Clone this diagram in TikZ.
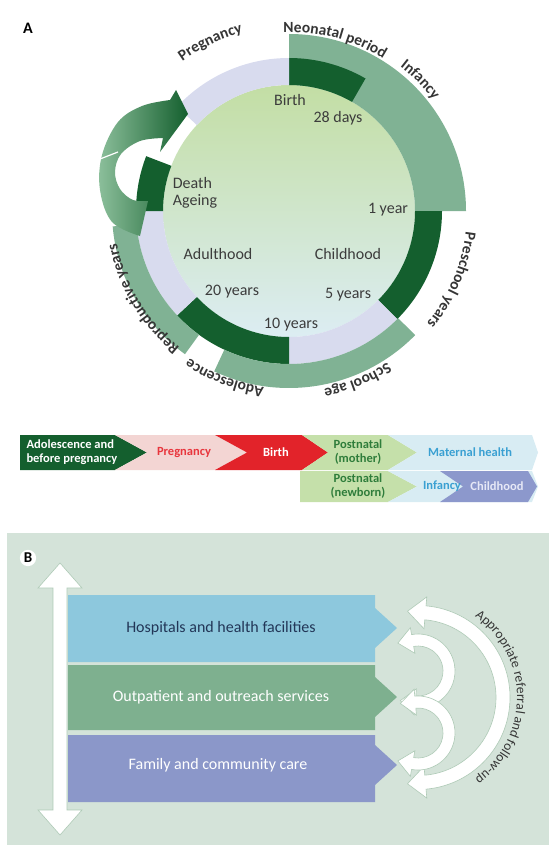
\documentclass[tikz,border=0pt]{standalone}
\usepackage{fontspec}
\setmainfont{Carlito}
\usepackage{xcolor}
\usepackage{tikz}
\usetikzlibrary{calc,decorations.text}

\definecolor{darkgreen}{HTML}{145F2E}
\definecolor{midgreen}{HTML}{80B294}
\definecolor{lavender}{HTML}{D8DBEE}
\definecolor{discTop}{HTML}{C3DEA4}
\definecolor{discBottom}{HTML}{DCEDF3}
\definecolor{arrowlight}{HTML}{8CBF9B}
\definecolor{ringtext}{HTML}{353535}
\definecolor{innertext}{HTML}{3C3C3C}
\definecolor{barpink}{HTML}{F3D5D3}
\definecolor{barred}{HTML}{E2232A}
\definecolor{barlightgreen}{HTML}{C5E0AA}
\definecolor{barblue}{HTML}{D8ECF3}
\definecolor{barpurple}{HTML}{8C98CC}
\definecolor{textred}{HTML}{E8363D}
\definecolor{textgreen}{HTML}{2F7D3B}
\definecolor{textblue}{HTML}{3AA0D2}
\definecolor{textlilac}{HTML}{E6E8F6}
\definecolor{panelbg}{HTML}{D4E3D9}
\definecolor{bandblue}{HTML}{8DC8DD}
\definecolor{bandgreen}{HTML}{7EB08F}
\definecolor{bandpurple}{HTML}{8B97C9}
\definecolor{textnavy}{HTML}{223657}
\definecolor{arrowline}{HTML}{AECAB6}

\newcommand{\ringfont}{\bfseries\fontsize{15.5}{15.5}\selectfont}
% ring piece: colour, from angle, to angle, inner radius, outer radius
\newcommand{\ringpart}[5]{\fill[#1] ($(C)+(#2:#4)$) arc[start angle=#2, end angle=#3, radius=#4]
  -- ($(C)+(#3:#5)$) arc[start angle=#3, end angle=#2, radius=#5] -- cycle;}
% curved white arrow: centre, radius, half width, from angle, to angle, head half width
\newcommand{\turnarrow}[6]{\filldraw[arcarrow] ($(#1)+(#4:#2+#3)$) arc[start angle=#4, end angle=#5, radius=#2+#3]
  -- ($(#1)+(#5:#2+#6)$) -- ($(#1)+(#5:#2)+(#5-90:#6+2)$) -- ($(#1)+(#5:#2-#6)$)
  -- ($(#1)+(#5:#2-#3)$) arc[start angle=#5, end angle=#4, radius=#2-#3]
  -- ($(#1)+(#4:#2-#6)$) -- ($(#1)+(#4:#2)+(#4+90:#6+2)$) -- ($(#1)+(#4:#2+#6)$) -- cycle;}

\begin{document}
\begin{tikzpicture}[x=1pt,y=1pt,
  inlabel/.style={text=innertext, font=\fontsize{16}{17}\selectfont},
  barlabel/.style={font=\bfseries\fontsize{12.5}{14}\selectfont, align=center},
  bandlabel/.style={font=\fontsize{16}{17}\selectfont},
  arcarrow/.style={fill=white, draw=arrowline, line width=0.6pt},
  ringlabel/.style={decorate, decoration={text along path, text align=center,
    text color=ringtext, text={|\ringfont|#1}}}]
  \useasboundingbox (0,0) rectangle (549,-845);
  \coordinate (C) at (289,-211);
  \coordinate (R) at (418,-697.5);

  % Panel A
  \node[font=\bfseries\fontsize{16}{16}\selectfont] (labA) at (28,-28) {A};

  % Inner disc
  \shade[top color=discTop, bottom color=discBottom] (C) circle[radius=126];

  % Rings
  \ringpart{midgreen}{90}{0}{126}{177}
  \ringpart{darkgreen}{90}{60}{126}{153}
  \ringpart{darkgreen}{0}{-45}{126}{153}
  \ringpart{lavender}{-45}{-90}{126}{153}
  \ringpart{darkgreen}{-90}{-137}{126}{153}
  \ringpart{lavender}{-137}{-180}{126}{153}
  \ringpart{darkgreen}{180}{159}{126}{153}
  \ringpart{lavender}{137}{90}{126}{153}
  \ringpart{midgreen}{-44.5}{-115}{153}{177}
  \ringpart{midgreen}{185}{234}{153}{177}

  % Ring labels
  \path[ringlabel={Pregnancy}] ($(C)+(145:184)$) arc[start angle=145, end angle=85, radius=184];
  \path[ringlabel={Neonatal period}] ($(C)+(110:179)$) arc[start angle=110, end angle=40, radius=179];
  \path[ringlabel={Infancy}] ($(C)+(75:182)$) arc[start angle=75, end angle=15, radius=182];
  \path[ringlabel={Preschool years}] ($(C)+(12:178)$) arc[start angle=12, end angle=-58, radius=178];
  \path[ringlabel={School age}] ($(C)+(-38:181)$) arc[start angle=-38, end angle=-98, radius=181];
  \path[ringlabel={Adolescence}] ($(C)+(-81:178)$) arc[start angle=-81, end angle=-141, radius=178];
  \path[ringlabel={Reproductive years}] ($(C)+(246:175)$) arc[start angle=246, end angle=176, radius=175];

  % Return arrow
  \shade[left color=arrowlight, right color=darkgreen] (140,-236)
    -- plot[smooth, tension=0.6] coordinates {(140,-236) (112,-222) (100,-190) (102,-155) (118,-122) (142,-106) (170,-100)}
    -- (176,-90) -- (188,-114) -- (160,-152)
    -- plot[smooth, tension=0.6] coordinates {(163,-138) (140,-141) (121,-154) (115,-172) (120,-189) (133,-200) (148,-201)}
    -- cycle;
  \draw[white, line width=1.2pt] (100,-159) -- (118,-152);

  % Disc labels
  \node[inlabel] (birth) at (290,-100) {Birth};
  \node[inlabel] (days28) at (338,-118) {28 days};
  \node[inlabel, align=left] (death) at (195,-193) {Death\\Ageing};
  \node[inlabel] (year1) at (388,-210) {1 year};
  \node[inlabel] (adult) at (218,-254) {Adulthood};
  \node[inlabel] (child) at (348,-254) {Childhood};
  \node[inlabel] (years20) at (232,-292) {20 years};
  \node[inlabel] (years5) at (348,-295) {5 years};
  \node[inlabel] (years10) at (291,-325) {10 years};

  % Stage bar, first row
  \fill[darkgreen] (20,-435) -- (115,-435) -- (147,-452.5) -- (115,-470) -- (20,-470) -- cycle;
  \fill[barpink] (115,-435) -- (215,-435) -- (247,-452.5) -- (215,-470) -- (115,-470) -- (147,-452.5) -- cycle;
  \fill[barred] (215,-435) -- (302,-435) -- (328,-452.5) -- (302,-470) -- (215,-470) -- (247,-452.5) -- cycle;
  \fill[barlightgreen] (302,-435) -- (388,-435) -- (417,-452.5) -- (388,-470) -- (302,-470) -- (328,-452.5) -- cycle;
  \fill[barblue] (388,-435) -- (532,-435) -- (538,-452.5) -- (532,-470) -- (388,-470) -- (417,-452.5) -- cycle;
  % Stage bar, second row
  \fill[barlightgreen] (300,-471) -- (388,-471) -- (417,-486.5) -- (388,-502) -- (300,-502) -- cycle;
  \fill[barblue] (388,-471) -- (532,-471) -- (538,-486.5) -- (532,-502) -- (388,-502) -- (417,-486.5) -- cycle;
  \fill[barpurple] (440,-471) -- (528,-471) -- (537,-486.5) -- (528,-502) -- (440,-502) -- (463,-486.5) -- cycle;

  \node[barlabel, text=white, align=left, anchor=west] (adol) at (23,-452.5) {Adolescence and\\before pregnancy};
  \node[barlabel, text=textred] (preg) at (184,-452.5) {Pregnancy};
  \node[barlabel, text=white] (birthbar) at (276,-452.5) {Birth};
  \node[barlabel, text=textgreen] (postmother) at (358,-452.5) {Postnatal\\(mother)};
  \node[barlabel, text=textblue] (maternal) at (470,-452.5) {Maternal health};
  \node[barlabel, text=textgreen] (postnewborn) at (358,-486.5) {Postnatal\\(newborn)};
  \node[barlabel, text=textblue] (infbar) at (442,-486.5) {Infancy};
  \node[barlabel, text=textlilac] (childbar) at (497,-486.5) {Childhood};

  % Panel B
  \fill[panelbg] (7,-533) rectangle (549,-845);
  \node[circle, fill=white, inner sep=1.2pt, font=\bfseries\fontsize{15}{15}\selectfont] (labB) at (28,-558) {B};

  % Levels of care
  \filldraw[arcarrow] (53,-588) -- (38,-588) -- (60,-563) -- (82,-588) -- (67,-588) -- (67,-810)
    -- (82,-810) -- (60,-835) -- (38,-810) -- (53,-810) -- cycle;
  \fill[bandblue] (68,-595) -- (375,-595) -- (375,-608) -- (397,-628) -- (375,-648) -- (375,-662) -- (68,-662) -- cycle;
  \fill[bandgreen] (68,-665) -- (375,-665) -- (375,-677) -- (397,-697) -- (375,-717) -- (375,-730) -- (68,-730) -- cycle;
  \fill[bandpurple] (68,-735) -- (375,-735) -- (375,-745) -- (397,-765) -- (375,-785) -- (375,-802) -- (68,-802) -- cycle;
  \node[bandlabel, text=textnavy] (hosp) at (221,-628) {Hospitals and health facilities};
  \node[bandlabel, text=white] (outp) at (221,-697) {Outpatient and outreach services};
  \node[bandlabel, text=white] (family) at (218,-765) {Family and community care};

  % Referral arrows
  \turnarrow{R}{85}{7}{85}{-85}{16}
  \turnarrow{418,-671}{31}{6}{100}{-95}{13}
  \turnarrow{418,-733}{31}{6}{95}{-100}{13}
  \path[decorate, decoration={text along path, text align=center, text color=ringtext,
    text={|\fontsize{13.5}{13.5}\selectfont|Appropriate referral and follow-up}}]
    ($(R)+(74:99)$) arc[start angle=74, end angle=-74, radius=99];
\end{tikzpicture}
\end{document}
